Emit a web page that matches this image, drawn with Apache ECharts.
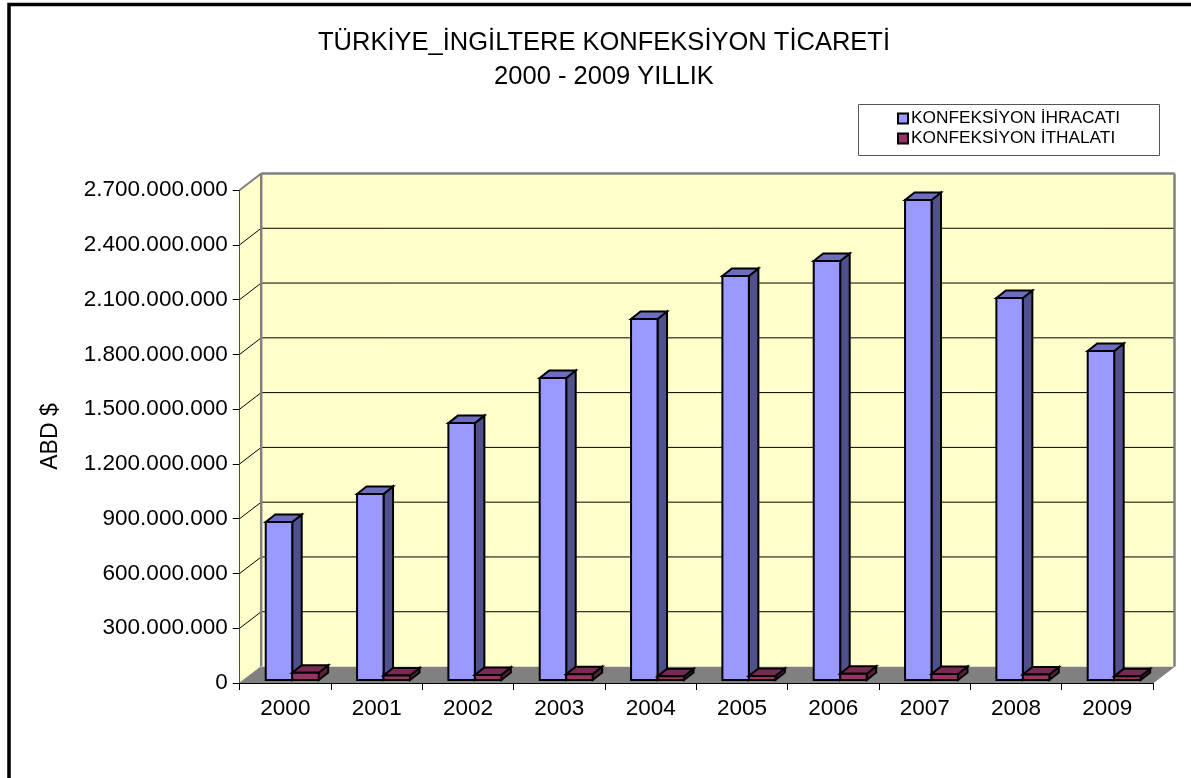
<!DOCTYPE html>
<html><head><meta charset="utf-8">
<style>html,body{margin:0;padding:0;background:#fff}#c{width:1191px;height:778px}</style>
<script src="https://cdn.jsdelivr.net/npm/echarts@6/dist/echarts.min.js"></script>
</head><body><div id="c"></div>
<script>
const categories = ['2000','2001','2002','2003','2004','2005','2006','2007','2008','2009'];
const exportValues = [865000000,1019000000,1407000000,1654000000,1977000000,2213000000,2295000000,2629000000,2092000000,1802000000];
const importValues = [40000000,25000000,28000000,32000000,20000000,22000000,34000000,33000000,30000000,20000000];
const yMax = 2700000000, yStep = 300000000;
const FONT = '"Liberation Sans", Arial, sans-serif';
const wallDX = 21.5, wallDY = -16.5, barDX = 9.5, barDY = -7.5, liftX = 0, liftY = -3;

const chart = echarts.init(document.getElementById('c'), null, {renderer:'canvas'});
const fmt = v => String(v).replace(/\B(?=(\d{3})+(?!\d))/g,'.');

function poly(points, fill, stroke, lw){
  return {type:'polygon', shape:{points}, style:{fill, stroke:stroke||'none', lineWidth:lw||0, lineJoin:'miter'}};
}
function line(a,b,stroke,lw){
  return {type:'line', shape:{x1:a[0],y1:a[1],x2:b[0],y2:b[1]}, style:{stroke, lineWidth:lw}};
}
function renderWalls(params, api){
  const g = params.coordSys, x0=g.x, x1=g.x+g.width, yT=g.y, yB=g.y+g.height;
  const d=(p)=>[p[0]+wallDX,p[1]+wallDY];
  const ch=[];
  ch.push(poly([[x0,yB],[x1,yB],d([x1,yB]),d([x0,yB])],'#808080'));
  ch.push(poly([d([x0,yT]),d([x1,yT]),d([x1,yB]),d([x0,yB])],'#FFFFCC'));
  ch.push(poly([[x0,yT],d([x0,yT]),d([x0,yB]),[x0,yB]],'#FFFFCC'));
  for(let v=yStep;v<yMax;v+=yStep){
    const y=api.coord([0,v])[1];
    ch.push(line([x0,y],d([x0,y]),'#000',1));
    ch.push(line(d([x0,y]),d([x1,y]),'#000',1));
  }
  ch.push(line([x0,yT],d([x0,yT]),'#808080',2));
  ch.push(line(d([x0,yT]),d([x1,yT]),'#808080',2.5));
  ch.push(line(d([x0,yT]),d([x0,yB]),'#808080',2.5));
  ch.push(line(d([x1,yT]),d([x1,yB]),'#808080',2.5));
  ch.push(line([x0,yB],d([x0,yB]),'#808080',1));
  ch.push(line([x1,yB],d([x1,yB]),'#808080',1));
  return {type:'group', children:ch, silent:true};
}
function bar3d(offset,widthFrac,front,side,top){
  return function(params, api){
    const c=api.coord([api.value(0),api.value(1)]);
    const base=api.coord([api.value(0),0]);
    const band=api.size([1,0])[0];
    const l=c[0]-band/2+offset*band+liftX, r=l+widthFrac*band;
    const t=c[1]+liftY, b=base[1]+liftY;
    const s='#000', w=2;
    return {type:'group',children:[
      poly([[r,t],[r+barDX,t+barDY],[r+barDX,b+barDY],[r,b]],side,s,w),
      poly([[l,t],[l+barDX,t+barDY],[r+barDX,t+barDY],[r,t]],top,s,w),
      poly([[l,t],[r,t],[r,b],[l,b]],front,s,w)
    ]};
  };
}
const option = {
  animation:false,
  backgroundColor:'#fff',
  textStyle:{fontFamily:FONT,color:'#000'},
  title:{
    text:'TÜRKİYE_İNGİLTERE KONFEKSİYON TİCARETİ\n2000 - 2009 YILLIK',
    left:599, top:21, textAlign:'center',
    textStyle:{fontFamily:FONT,fontSize:25.5,fontWeight:'normal',color:'#000',lineHeight:34}
  },
  legend:{
    orient:'vertical', left:892, top:105, itemWidth:10, itemHeight:10, itemGap:3, icon:'rect',
    textStyle:{fontFamily:FONT,fontSize:17.3,color:'#000',padding:[0,0,0,-2]},
    data:['KONFEKSİYON İHRACATI','KONFEKSİYON İTHALATI']
  },
  graphic:[
    {type:'rect',z:-1,shape:{x:858.5,y:104.5,width:301,height:51},style:{fill:'#fff',stroke:'#555',lineWidth:1}},
    {type:'rect',z:100,shape:{x:9,y:4.5,width:1300,height:1300},style:{fill:'none',stroke:'#000',lineWidth:3.5}}
  ],
  grid:{left:239.7,right:38,top:190,bottom:95},
  xAxis:{
    type:'category',data:categories,
    axisLine:{lineStyle:{color:'#000',width:1}},
    axisTick:{show:true,length:7,alignWithLabel:false,lineStyle:{color:'#000'}},
    axisLabel:{fontFamily:FONT,fontSize:22.5,color:'#000',margin:14},
    splitLine:{show:false}
  },
  yAxis:{
    type:'value',min:0,max:yMax,interval:yStep,
    name:'ABD $',nameLocation:'middle',nameGap:178,nameRotate:90,
    nameTextStyle:{fontFamily:FONT,fontSize:23,color:'#000'},
    axisLine:{show:true,lineStyle:{color:'#000',width:1}},
    axisTick:{show:true,length:7,lineStyle:{color:'#000'}},
    axisLabel:{fontFamily:FONT,fontSize:22.5,color:'#000',margin:12,formatter:fmt},
    splitLine:{show:false}
  },
  series:[
    {type:'custom',silent:true,z:1,coordinateSystem:'cartesian2d',renderItem:renderWalls,data:[[0,0]],encode:{x:0,y:1},clip:false,legendHoverLink:false},
    {type:'custom',name:'KONFEKSİYON İHRACATI',z:2,clip:false,renderItem:bar3d(0.285,0.29,'#9999FF','#50508C','#6E6EC0'),
     itemStyle:{color:'#9999FF',borderColor:'#000',borderWidth:1.5},encode:{x:0,y:1},
     data:exportValues.map((v,i)=>[i,v])},
    {type:'custom',name:'KONFEKSİYON İTHALATI',z:3,clip:false,renderItem:bar3d(0.575,0.29,'#993366','#5C1F3D','#7A2952'),
     itemStyle:{color:'#993366',borderColor:'#000',borderWidth:1.5},encode:{x:0,y:1},
     data:importValues.map((v,i)=>[i,v])}
  ]
};
chart.setOption(option);
</script></body></html>
